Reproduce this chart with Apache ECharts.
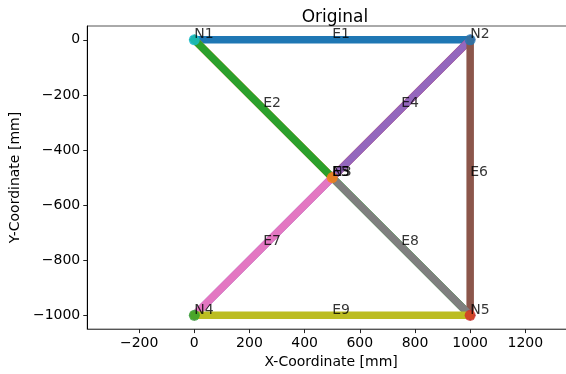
<!DOCTYPE html>
<html>
<head>
<meta charset="utf-8">
<script src="https://cdn.jsdelivr.net/npm/echarts@6/dist/echarts.min.js"></script>
<style>
  html, body { margin: 0; padding: 0; background: #fff; overflow: hidden; }
  /* canvas is a little wider than the window so the right spine falls off the edge */
  #chart { width: 584px; height: 374px; }
</style>
</head>
<body>
<div id="chart"></div>
<script>
// Truss geometry: nodes and the members that join them
const nodeNames = ['N1', 'N2', 'N3', 'N4', 'N5'];
const nodeX = [0, 1000, 500, 0, 1000];
const nodeY = [0, 0, -500, -1000, -1000];

const edgeNames = ['E1', 'E2', 'E3', 'E4', 'E5', 'E6', 'E7', 'E8', 'E9'];
const edgeStart = [0, 0, 0, 1, 1, 1, 2, 2, 3];
const edgeEnd   = [1, 2, 4, 2, 3, 4, 3, 4, 4];

const xTicks = [-200, 0, 200, 400, 600, 800, 1000, 1200];
const yTicks = [-1000, -800, -600, -400, -200, 0];

// tab10 colour cycle
const palette = ['#1f77b4', '#ff7f0e', '#2ca02c', '#d62728', '#9467bd',
                 '#8c564b', '#e377c2', '#7f7f7f', '#bcbd22', '#17becf'];

const FONT = 'DejaVu Sans';
const series = [];

// one line series per member, colours continue through the cycle
edgeNames.forEach((name, i) => {
  const a = edgeStart[i], b = edgeEnd[i];
  series.push({
    type: 'line',
    name: name,
    data: [[nodeX[a], nodeY[a]], [nodeX[b], nodeY[b]]],
    showSymbol: false,
    symbol: 'none',
    silent: true,
    animation: false,
    lineStyle: { width: 7.5, color: palette[i % 10], cap: 'square' },
    z: 2
  });
});

// node markers continue the colour cycle after the members
const nodeData = nodeNames.map((n, j) => ({
  value: [nodeX[j], nodeY[j]],
  itemStyle: { color: palette[(edgeNames.length + j) % 10] }
}));
series.push({
  type: 'scatter',
  data: nodeData,
  symbolSize: 11,
  silent: true,
  animation: false,
  z: 3
});

const textLabel = {
  show: true,
  position: [0, 0],
  align: 'left',
  verticalAlign: 'bottom',
  offset: [0, 2],
  fontFamily: FONT,
  fontSize: 14,
  color: '#000',
  formatter: p => p.data[2]
};

// member labels at mid-span
const edgeLabelData = edgeNames.map((name, i) => {
  const a = edgeStart[i], b = edgeEnd[i];
  return [(nodeX[a] + nodeX[b]) / 2, (nodeY[a] + nodeY[b]) / 2, name];
});
series.push({
  type: 'scatter',
  data: edgeLabelData,
  symbolSize: 0,
  silent: true,
  animation: false,
  label: textLabel,
  z: 4
});

// node labels
series.push({
  type: 'scatter',
  data: nodeNames.map((n, j) => [nodeX[j], nodeY[j], n]),
  symbolSize: 0,
  silent: true,
  animation: false,
  label: textLabel,
  z: 5
});

const chart = echarts.init(document.getElementById('chart'), null, { renderer: 'canvas' });
chart.setOption({
  backgroundColor: '#fff',
  animation: false,
  title: {
    text: 'Original',
    left: 330,
    top: 4,
    textAlign: 'center',
    textStyle: { fontFamily: FONT, fontSize: 17, fontWeight: 'normal', color: '#000' }
  },
  grid: {
    left: 82, right: 9, top: 26, bottom: 41,
    show: true, borderColor: '#555', borderWidth: 1, backgroundColor: 'transparent'
  },
  xAxis: {
    type: 'value',
    min: -388, max: 1380,
    name: 'X-Coordinate [mm]',
    nameLocation: 'middle',
    nameGap: 22,
    nameTextStyle: { fontFamily: FONT, fontSize: 14, color: '#000' },
    axisLine: { show: true, onZero: false, lineStyle: { color: '#555', width: 1 } },
    axisTick: { show: true, length: 4, lineStyle: { color: '#222' }, customValues: xTicks },
    axisLabel: {
      fontFamily: FONT, fontSize: 14, color: '#000', margin: 7,
      customValues: xTicks,
      formatter: v => (v < 0 ? '\u2212' + Math.abs(v) : String(v))
    },
    splitLine: { show: false }
  },
  yAxis: {
    type: 'value',
    min: -1050, max: 50,
    name: 'Y-Coordinate [mm]',
    nameLocation: 'middle',
    nameGap: 45,
    nameRotate: 90,
    nameTextStyle: { fontFamily: FONT, fontSize: 14, color: '#000' },
    axisLine: { show: true, onZero: false, lineStyle: { color: '#000', width: 1 } },
    axisTick: { show: true, length: 4, lineStyle: { color: '#222' }, customValues: yTicks },
    axisLabel: {
      fontFamily: FONT, fontSize: 14, color: '#000', margin: 7,
      customValues: yTicks,
      formatter: v => (v < 0 ? '\u2212' + Math.abs(v) : String(v))
    },
    splitLine: { show: false }
  },
  series: series
});
</script>
</body>
</html>
